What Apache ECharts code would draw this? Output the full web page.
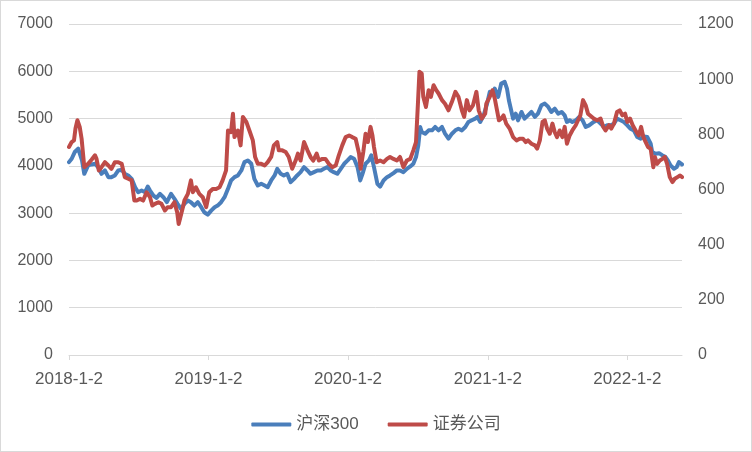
<!DOCTYPE html>
<html>
<head>
<meta charset="utf-8">
<script src="https://cdn.jsdelivr.net/npm/echarts@6/dist/echarts.min.js"></script>
<style>
html,body{margin:0;padding:0;background:#fff;}
#chart{position:absolute;left:0;top:0;width:752px;height:452px;}
#frame{position:absolute;left:0;top:0;width:752px;height:452px;box-sizing:border-box;border:1px solid #d9d9d9;pointer-events:none;}
</style>
</head>
<body>
<div id="chart"></div>
<div id="frame"></div>
<script>
const seriesNames = ['沪深300', '证券公司'];
const xTickDates = ['2018-1-2', '2019-1-2', '2020-1-2', '2021-1-2', '2022-1-2'];
const xMin = '2018-01-02';
const xMax = '2022-05-25';

const hsDates = ['2018-01-02','2018-01-09','2018-01-17','2018-01-26','2018-01-30','2018-02-05','2018-02-11','2018-02-21','2018-03-02','2018-03-11','2018-03-19','2018-03-28','2018-04-06','2018-04-15','2018-04-23','2018-05-02','2018-05-11','2018-05-20','2018-05-28','2018-06-06','2018-06-15','2018-06-24','2018-07-02','2018-07-11','2018-07-20','2018-07-27','2018-08-02','2018-08-11','2018-08-19','2018-08-28','2018-09-06','2018-09-15','2018-09-26','2018-10-05','2018-10-13','2018-10-22','2018-10-31','2018-11-09','2018-11-17','2018-11-26','2018-12-05','2018-12-14','2018-12-22','2018-12-31','2019-01-09','2019-01-18','2019-01-26','2019-02-04','2019-02-13','2019-02-22','2019-03-02','2019-03-11','2019-03-20','2019-03-29','2019-04-06','2019-04-15','2019-04-24','2019-05-02','2019-05-11','2019-05-20','2019-05-29','2019-06-06','2019-06-15','2019-06-24','2019-07-01','2019-07-10','2019-07-18','2019-07-27','2019-08-05','2019-08-14','2019-08-22','2019-08-31','2019-09-09','2019-09-18','2019-09-26','2019-10-05','2019-10-14','2019-10-23','2019-10-31','2019-11-09','2019-11-18','2019-11-26','2019-12-05','2019-12-14','2019-12-23','2020-01-01','2020-01-09','2020-01-18','2020-01-27','2020-02-03','2020-02-09','2020-02-17','2020-02-26','2020-03-03','2020-03-10','2020-03-19','2020-03-26','2020-04-04','2020-04-13','2020-04-21','2020-04-30','2020-05-09','2020-05-17','2020-05-26','2020-06-04','2020-06-13','2020-06-21','2020-06-28','2020-07-04','2020-07-09','2020-07-13','2020-07-22','2020-07-31','2020-08-09','2020-08-17','2020-08-26','2020-09-04','2020-09-12','2020-09-21','2020-09-30','2020-10-09','2020-10-17','2020-10-26','2020-11-04','2020-11-12','2020-11-21','2020-11-30','2020-12-06','2020-12-13','2020-12-22','2020-12-31','2021-01-07','2021-01-15','2021-01-20','2021-01-29','2021-02-06','2021-02-15','2021-02-21','2021-02-26','2021-03-05','2021-03-09','2021-03-16','2021-03-22','2021-03-31','2021-04-08','2021-04-17','2021-04-26','2021-05-05','2021-05-13','2021-05-22','2021-05-31','2021-06-09','2021-06-17','2021-06-26','2021-07-05','2021-07-14','2021-07-22','2021-07-28','2021-08-04','2021-08-11','2021-08-20','2021-08-29','2021-09-07','2021-09-15','2021-09-24','2021-10-06','2021-10-15','2021-10-24','2021-11-02','2021-11-10','2021-11-19','2021-11-28','2021-12-06','2021-12-15','2021-12-24','2022-01-02','2022-01-10','2022-01-19','2022-01-28','2022-02-06','2022-02-14','2022-02-23','2022-03-04','2022-03-08','2022-03-17','2022-03-26','2022-04-04','2022-04-12','2022-04-18','2022-04-25','2022-05-04','2022-05-11','2022-05-17','2022-05-25'];
const hsValues = [4079,4150,4292,4362,4327,4115,3832,4009,4030,4044,3973,3832,3903,3761,3761,3797,3903,3917,3832,3797,3726,3549,3443,3478,3443,3563,3478,3372,3323,3408,3337,3231,3408,3302,3196,3090,3196,3266,3231,3160,3231,3125,3019,2969,3054,3125,3160,3231,3337,3514,3691,3761,3797,3903,4079,4115,4044,3726,3584,3620,3584,3549,3691,3797,3938,3832,3797,3832,3655,3726,3797,3867,3973,3903,3832,3867,3903,3903,3938,3973,3903,3867,3832,3938,4044,4115,4185,4150,3973,3691,3832,4044,4115,4221,3973,3620,3560,3691,3761,3797,3846,3903,3903,3867,3938,3988,4044,4185,4433,4822,4716,4680,4751,4751,4822,4751,4822,4680,4574,4680,4751,4786,4751,4822,4928,4963,4998,5034,4928,5069,5317,5564,5529,5635,5458,5741,5776,5635,5387,5140,4998,5104,4963,5140,4998,5069,5140,5034,5104,5281,5317,5246,5140,5211,5104,5140,5069,4928,4963,4928,4963,5034,4963,4822,4857,4928,4963,4892,4822,4857,4857,4892,4998,4963,4928,4857,4786,4751,4610,4574,4624,4610,4468,4292,4256,4268,4221,4185,4115,4009,3938,3973,4079,4030];

const secDates = ['2018-01-02','2018-01-09','2018-01-15','2018-01-19','2018-01-24','2018-01-30','2018-02-04','2018-02-06','2018-02-11','2018-02-21','2018-03-02','2018-03-11','2018-03-15','2018-03-21','2018-03-28','2018-04-06','2018-04-10','2018-04-15','2018-04-23','2018-05-02','2018-05-11','2018-05-20','2018-05-28','2018-06-06','2018-06-15','2018-06-22','2018-06-28','2018-07-07','2018-07-15','2018-07-24','2018-08-02','2018-08-08','2018-08-15','2018-08-24','2018-09-01','2018-09-10','2018-09-17','2018-09-26','2018-10-05','2018-10-12','2018-10-16','2018-10-20','2018-10-27','2018-10-31','2018-11-09','2018-11-17','2018-11-22','2018-11-30','2018-12-09','2018-12-18','2018-12-27','2019-01-04','2019-01-13','2019-01-22','2019-01-31','2019-02-08','2019-02-17','2019-02-22','2019-03-02','2019-03-07','2019-03-11','2019-03-20','2019-03-27','2019-04-02','2019-04-11','2019-04-19','2019-04-28','2019-05-04','2019-05-11','2019-05-20','2019-05-29','2019-06-06','2019-06-15','2019-06-22','2019-07-01','2019-07-05','2019-07-14','2019-07-23','2019-07-31','2019-08-09','2019-08-18','2019-08-24','2019-08-31','2019-09-09','2019-09-18','2019-09-26','2019-10-03','2019-10-12','2019-10-18','2019-10-27','2019-11-04','2019-11-13','2019-11-22','2019-12-01','2019-12-09','2019-12-18','2019-12-27','2020-01-05','2020-01-13','2020-01-22','2020-01-31','2020-02-04','2020-02-11','2020-02-17','2020-02-23','2020-03-01','2020-03-06','2020-03-10','2020-03-17','2020-03-26','2020-04-04','2020-04-13','2020-04-21','2020-04-30','2020-05-09','2020-05-17','2020-05-26','2020-06-04','2020-06-13','2020-06-21','2020-06-28','2020-07-03','2020-07-07','2020-07-13','2020-07-17','2020-07-24','2020-07-31','2020-08-06','2020-08-13','2020-08-20','2020-08-26','2020-09-04','2020-09-12','2020-09-21','2020-09-30','2020-10-09','2020-10-17','2020-10-26','2020-11-01','2020-11-08','2020-11-15','2020-11-24','2020-12-03','2020-12-09','2020-12-17','2020-12-26','2020-12-29','2021-01-07','2021-01-14','2021-01-20','2021-01-26','2021-01-31','2021-02-06','2021-02-12','2021-02-19','2021-02-28','2021-03-09','2021-03-18','2021-03-26','2021-04-04','2021-04-11','2021-04-17','2021-04-26','2021-05-05','2021-05-11','2021-05-18','2021-05-25','2021-05-31','2021-06-06','2021-06-13','2021-06-20','2021-06-26','2021-07-02','2021-07-09','2021-07-16','2021-07-22','2021-07-28','2021-08-04','2021-08-11','2021-08-20','2021-08-26','2021-09-01','2021-09-08','2021-09-15','2021-09-21','2021-10-06','2021-10-15','2021-10-24','2021-10-31','2021-11-06','2021-11-15','2021-11-21','2021-11-28','2021-12-06','2021-12-13','2021-12-20','2021-12-27','2022-01-02','2022-01-09','2022-01-16','2022-01-21','2022-01-26','2022-02-01','2022-02-07','2022-02-13','2022-02-19','2022-02-25','2022-03-04','2022-03-11','2022-03-15','2022-03-21','2022-03-28','2022-04-04','2022-04-10','2022-04-16','2022-04-23','2022-04-30','2022-05-06','2022-05-13','2022-05-20','2022-05-25'];
const secValues = [754,772,778,821,851,827,784,778,681,693,708,724,711,669,681,699,705,687,675,699,699,693,645,639,633,560,560,566,560,590,572,542,548,554,548,524,536,536,554,518,475,478,536,560,584,633,590,608,584,572,536,590,602,602,608,633,669,814,808,875,790,814,760,863,845,814,778,718,693,693,687,699,718,760,772,742,742,736,718,675,705,730,705,772,742,718,705,730,705,711,711,693,681,687,724,760,790,796,790,784,730,675,736,802,772,827,796,754,699,705,699,711,718,711,705,718,681,705,711,742,772,911,1027,1020,936,899,960,936,978,960,948,924,911,887,918,954,936,887,863,924,887,905,954,887,857,875,911,936,960,930,887,851,857,869,839,821,790,778,784,784,772,778,766,760,748,778,845,851,821,802,839,808,790,814,790,827,766,796,814,833,851,869,924,905,875,857,851,857,827,814,833,821,839,881,887,869,875,845,857,833,839,808,796,827,790,772,754,748,681,718,693,705,711,718,693,645,627,639,645,651,645];

const leftMin = 0, leftMax = 7000, leftStep = 1000;
const rightMin = 0, rightMax = 1200, rightStep = 200;

function parseLocal(s) {
  const p = s.split('-').map(Number);
  return new Date(p[0], p[1] - 1, p[2]).getTime();
}
const tickValues = xTickDates.map(parseLocal);

const FONT = "'Liberation Sans', 'Noto Sans CJK SC', sans-serif";
const TXT = '#595959';
const GRID = '#d9d9d9';

const chart = echarts.init(document.getElementById('chart'), null, {renderer: 'canvas'});
chart.setOption({
  animation: false,
  backgroundColor: 'transparent',
  textStyle: {fontFamily: FONT},
  grid: {left: 69, right: 70, top: 24, bottom: 97, containLabel: false},
  legend: {
    data: seriesNames,
    left: 'center',
    top: 411,
    icon: 'roundRect',
    itemWidth: 40,
    itemHeight: 4,
    itemGap: 29,
    textStyle: {color: TXT, fontSize: 17, fontFamily: FONT}
  },
  xAxis: {
    type: 'value',
    min: parseLocal(xMin),
    max: parseLocal(xMax),
    splitLine: {show: false},
    axisLine: {show: true, lineStyle: {color: GRID, width: 1}},
    axisTick: {show: true, length: 5, lineStyle: {color: GRID}, customValues: tickValues},
    axisLabel: {
      color: TXT, fontSize: 17, fontFamily: FONT, margin: 16,
      customValues: tickValues,
      hideOverlap: false,
      formatter: function (v) {
        const d = new Date(v);
        return d.getFullYear() + '-' + (d.getMonth() + 1) + '-' + d.getDate();
      }
    }
  },
  yAxis: [
    {
      type: 'value', min: leftMin, max: leftMax, interval: leftStep,
      axisLine: {show: false}, axisTick: {show: false},
      axisLabel: {color: TXT, fontSize: 16, fontFamily: FONT, margin: 16, formatter: v => String(v)},
      splitLine: {show: true, lineStyle: {color: GRID, width: 1}}
    },
    {
      type: 'value', min: rightMin, max: rightMax, interval: rightStep, position: 'right',
      axisLine: {show: false}, axisTick: {show: false},
      axisLabel: {color: TXT, fontSize: 16, fontFamily: FONT, margin: 16, formatter: v => String(v)},
      splitLine: {show: false}
    }
  ],
  series: [
    {
      name: seriesNames[0], type: 'line', yAxisIndex: 0, showSymbol: false, symbol: 'none',
      lineStyle: {color: '#4A7EBB', width: 4, join: 'round', cap: 'round'},
      itemStyle: {color: '#4A7EBB'},
      data: hsDates.map((d, i) => [parseLocal(d), hsValues[i]])
    },
    {
      name: seriesNames[1], type: 'line', yAxisIndex: 1, showSymbol: false, symbol: 'none',
      lineStyle: {color: '#BE4B48', width: 4, join: 'round', cap: 'round'},
      itemStyle: {color: '#BE4B48'},
      data: secDates.map((d, i) => [parseLocal(d), secValues[i]])
    }
  ]
});
</script>
</body>
</html>
